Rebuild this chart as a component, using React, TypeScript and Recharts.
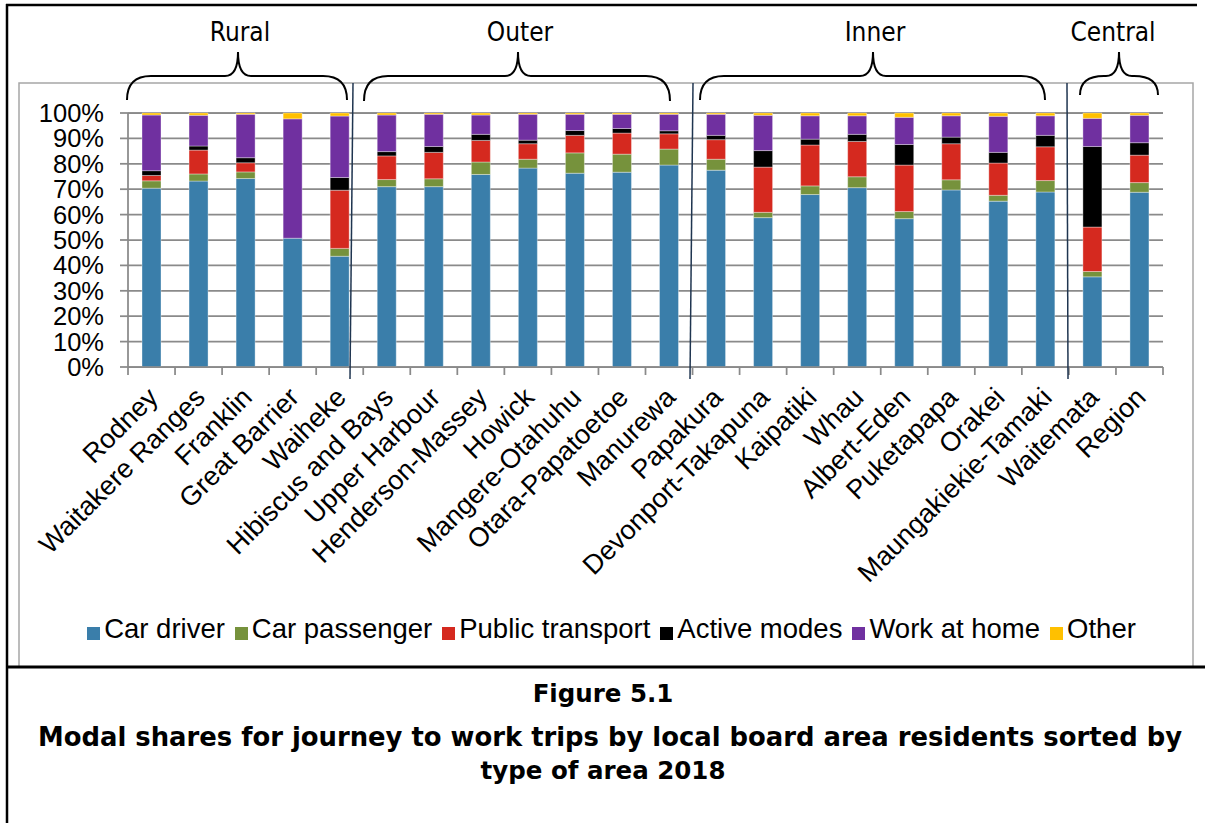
import { BarChart, Bar, XAxis, YAxis, CartesianGrid, Legend } from 'recharts';

const areas = [
  'Rodney', 'Waitakere Ranges', 'Franklin', 'Great Barrier', 'Waiheke',
  'Hibiscus and Bays', 'Upper Harbour', 'Henderson-Massey', 'Howick', 'Mangere-Otahuhu',
  'Otara-Papatoetoe', 'Manurewa', 'Papakura', 'Devonport-Takapuna', 'Kaipatiki',
  'Whau', 'Albert-Eden', 'Puketapapa', 'Orakei', 'Maungakiekie-Tamaki',
  'Waitemata', 'Region',
];

const carDriver = [70.4, 73.2, 74.2, 50.7, 43.6, 71.0, 71.0, 75.8, 78.3, 76.3, 76.7, 79.5, 77.5, 58.8, 67.9, 70.6, 58.4, 69.7, 65.3, 68.9, 35.5, 68.8];
const carPassenger = [2.9, 2.8, 2.6, 0, 3.1, 2.8, 3.1, 4.9, 3.5, 8.0, 7.1, 6.3, 4.3, 2.1, 3.4, 4.3, 2.8, 4.0, 2.3, 4.5, 2.1, 3.8];
const publicTransport = [2.1, 9.4, 3.6, 0, 22.9, 9.3, 10.4, 8.5, 6.1, 6.9, 8.3, 6.0, 7.7, 17.8, 16.1, 13.9, 18.3, 14.2, 12.7, 13.3, 17.5, 10.8];
const activeModes = [1.9, 1.6, 2.0, 0, 5.0, 1.7, 2.3, 2.4, 1.4, 1.9, 1.8, 1.2, 1.7, 6.5, 2.3, 2.8, 8.1, 2.6, 4.2, 4.5, 31.7, 4.9];
const workAtHome = [21.9, 12.1, 17.1, 47.0, 24.2, 14.4, 12.7, 7.6, 10.2, 6.4, 5.6, 6.5, 8.3, 13.9, 9.2, 7.3, 10.7, 8.4, 14.2, 7.7, 11.1, 10.8];
const other = [0.8, 0.9, 0.5, 2.3, 1.2, 0.8, 0.5, 0.8, 0.5, 0.5, 0.5, 0.5, 0.5, 0.9, 1.1, 1.1, 1.7, 1.1, 1.3, 1.1, 2.1, 0.9];

const yTicks = [0, 10, 20, 30, 40, 50, 60, 70, 80, 90, 100];

const groups = [
  { label: 'Rural', x1: 127, x2: 347, xm: 238, yBot: 100 },
  { label: 'Outer', x1: 364, x2: 670, xm: 518, yBot: 101 },
  { label: 'Inner', x1: 700, x2: 1045, xm: 873, yBot: 100 },
  { label: 'Central', x1: 1080, x2: 1158, xm: 1119, yBot: 95 },
];

const series = [
  { key: 'carDriver', name: 'Car driver', color: '#3A7EAA' },
  { key: 'carPassenger', name: 'Car passenger', color: '#76923C' },
  { key: 'publicTransport', name: 'Public transport', color: '#D5291F' },
  { key: 'activeModes', name: 'Active modes', color: '#000000' },
  { key: 'workAtHome', name: 'Work at home', color: '#7030A0' },
  { key: 'other', name: 'Other', color: '#FFC000' },
];

const data = areas.map((name, i) => ({
  name,
  carDriver: carDriver[i],
  carPassenger: carPassenger[i],
  publicTransport: publicTransport[i],
  activeModes: activeModes[i],
  workAtHome: workAtHome[i],
  other: other[i],
}));

const W = 1205;
const H = 823;
const PLOT_TOP = 113;
const PLOT_BOTTOM = 367;
const PLOT_LEFT = 128;
const PLOT_RIGHT = 1163;
const Y_W = 100;
const X_H = 180;
const GRID = '#8a8a8a';
const FONT = '"Liberation Sans", Arial, sans-serif';
const CAPTION_FONT = '"DejaVu Sans", Verdana, sans-serif';

const XTick = (props: any) => {
  const { x, y, payload, index } = props;
  const half = payload.offset ?? (PLOT_RIGHT - PLOT_LEFT) / areas.length / 2;
  const ax = x + 8;
  const ay = y + 32;
  return (
    <g>
      <line x1={x - half} y1={y} x2={x - half} y2={y + 8} stroke={GRID} strokeWidth={1.75} />
      {index === areas.length - 1 && (
        <line x1={x + half} y1={y} x2={x + half} y2={y + 8} stroke={GRID} strokeWidth={1.75} />
      )}
      <text x={ax} y={ay} transform={`rotate(-45 ${ax} ${ay})`} textAnchor="end" fontSize={27} fontFamily={FONT} fill="#000">
        {payload.value}
      </text>
    </g>
  );
};

const brace = (g: typeof groups[number]) => {
  const yTop = 52;
  const yMid = 76;
  const r = 24;
  const p = 13;
  return `M ${g.x1} ${g.yBot} Q ${g.x1} ${yMid} ${g.x1 + r} ${yMid} L ${g.xm - p} ${yMid} Q ${g.xm} ${yMid} ${g.xm} ${yTop} Q ${g.xm} ${yMid} ${g.xm + p} ${yMid} L ${g.x2 - r} ${yMid} Q ${g.x2} ${yMid} ${g.x2} ${g.yBot}`;
};

const legendOrder = (item: any) => series.findIndex((s) => s.name === item.value);

export default function App() {
  return (
    <div style={{ position: 'fixed', left: 0, top: 0, width: W, height: H, background: '#fff', fontFamily: FONT }}>
      <BarChart
        width={W}
        height={H}
        data={data}
        margin={{ top: PLOT_TOP, right: W - PLOT_RIGHT, bottom: H - PLOT_BOTTOM - X_H, left: PLOT_LEFT - Y_W }}
        barSize={19}
      >
        <CartesianGrid vertical={false} stroke={GRID} strokeWidth={1.75} />
        <XAxis
          dataKey="name"
          interval={0}
          height={X_H}
          tickLine={false}
          tickSize={0}
          tickMargin={0}
          axisLine={{ stroke: GRID, strokeWidth: 1.75 }}
          tick={<XTick />}
        />
        <YAxis
          width={Y_W}
          domain={[0, 100]}
          ticks={yTicks}
          interval={0}
          tickFormatter={(v) => `${v}%`}
          tickSize={8}
          tickMargin={16}
          tickLine={{ stroke: GRID, strokeWidth: 1.75 }}
          axisLine={{ stroke: GRID, strokeWidth: 1.75 }}
          tick={{ fontSize: 25.5, fill: '#000', fontFamily: FONT }}
        />
        <Legend
          layout="horizontal"
          verticalAlign="middle"
          align="center"
          iconType="square"
          iconSize={13}
          itemSorter={legendOrder}
          wrapperStyle={{ top: 613, left: 14, width: W }}
          formatter={(v) => <span style={{ color: '#000', fontSize: 27.5, fontFamily: FONT }}>{v}</span>}
        />
        {series.map((s) => (
          <Bar
            key={s.key}
            dataKey={s.key}
            name={s.name}
            stackId="modes"
            fill={s.color}
            stroke="#ffffff"
            strokeOpacity={0.35}
            strokeWidth={1}
            isAnimationActive={false}
          />
        ))}
      </BarChart>

      <svg width={W} height={H} style={{ position: 'absolute', left: 0, top: 0, pointerEvents: 'none' }}>
        <line x1={6} y1={5} x2={1197} y2={5} stroke="#000" strokeWidth={2.5} />
        <line x1={7} y1={4} x2={7} y2={H} stroke="#000" strokeWidth={2.5} />
        <rect x={19} y={83} width={1174} height={584} fill="none" stroke="#a6a6a6" strokeWidth={1.5} />
        <line x1={6} y1={667} x2={W} y2={667} stroke="#000" strokeWidth={3} />

        <line x1={353} y1={83} x2={350} y2={379} stroke="#1F3550" strokeWidth={1.5} />
        <line x1={693} y1={83} x2={690} y2={379} stroke="#1F3550" strokeWidth={1.5} />
        <line x1={1067} y1={83} x2={1068} y2={379} stroke="#1F3550" strokeWidth={1.5} />

        {groups.map((g) => (
          <g key={g.label}>
            <path d={brace(g)} fill="none" stroke="#000" strokeWidth={2} />
            <text x={g.xm + (g.label === 'Central' ? -6 : 2)} y={41} textAnchor="middle" fontSize={26} fontFamily='"DejaVu Sans Condensed", "DejaVu Sans", sans-serif' fill="#000">
              {g.label}
            </text>
          </g>
        ))}

        <text x={603} y={702} textAnchor="middle" fontSize={24.5} fontWeight="bold" fontFamily={CAPTION_FONT} fill="#000">
          Figure 5.1
        </text>
        <text x={610} y={746} textAnchor="middle" fontSize={26} fontWeight="bold" fontFamily={CAPTION_FONT} fill="#000" textLength={1144} lengthAdjust="spacingAndGlyphs">
          Modal shares for journey to work trips by local board area residents sorted by
        </text>
        <text x={603} y={779} textAnchor="middle" fontSize={24.5} fontWeight="bold" fontFamily={CAPTION_FONT} fill="#000">
          type of area 2018
        </text>
      </svg>
    </div>
  );
}
